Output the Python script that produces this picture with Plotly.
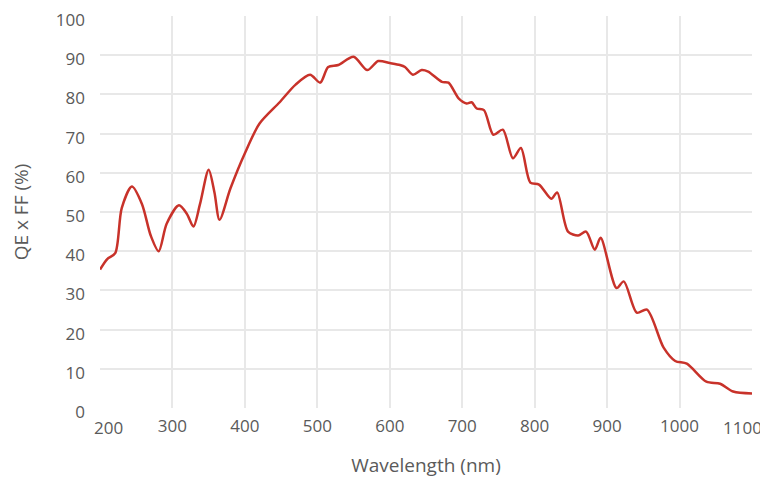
import plotly.graph_objects as go

# QE x FF curve
wavelength_nm = [200, 210, 221, 230, 244, 258, 270, 281, 292, 309, 320, 329, 338, 350,
                 358, 365, 380, 400, 420, 448, 470, 490, 504, 515, 529, 550, 569, 584,
                 600, 614, 621, 632, 644, 653, 672, 681, 695, 706, 713, 720, 730, 743,
                 756, 770, 781, 794, 806, 823, 831, 846, 860, 871, 883, 891, 913, 923,
                 941, 955, 978, 994, 1010, 1037, 1056, 1074, 1100]
qe_ff_pct = [35.3, 38.0, 39.5, 51.0, 56.5, 52.0, 44.0, 40.0, 47.0, 51.7, 49.5, 46.3, 52.0, 60.8,
             55.0, 48.0, 56.0, 65.0, 72.5, 78.0, 82.5, 85.0, 83.0, 87.0, 87.5, 89.6, 86.2, 88.5,
             88.0, 87.5, 87.0, 85.0, 86.2, 85.8, 83.2, 83.0, 79.0, 77.7, 78.0, 76.4, 76.0, 69.7,
             71.0, 63.7, 66.3, 57.5, 57.0, 53.4, 55.0, 45.0, 44.0, 45.0, 40.4, 43.4, 30.6, 32.3,
             24.3, 25.1, 15.4, 12.0, 11.3, 6.7, 6.2, 4.2, 3.7]

x_ticks = [200, 300, 400, 500, 600, 700, 800, 900, 1000, 1100]
x_labels = ["200", "300", "400", "500", "600", "700", "800", "900", "1000", "1100"]
y_ticks = [0, 10, 20, 30, 40, 50, 60, 70, 80, 90, 100]

grey = "#5a5a5a"
grid = "#e8e8e8"

fig = go.Figure()
fig.add_trace(go.Scatter(
    x=wavelength_nm, y=qe_ff_pct, mode="lines",
    line=dict(color="#c8322a", width=2.5, shape="spline", smoothing=0.8),
    hoverinfo="skip", showlegend=False,
))

# end labels sit nudged inward in the source, so they are drawn as annotations
inner_text = [""] + x_labels[1:-1] + [""]
for val, lab, shift in [(x_ticks[0], x_labels[0], 8), (x_ticks[-1], x_labels[-1], -10)]:
    fig.add_annotation(x=val, y=0, xref="x", yref="paper", text=lab, showarrow=False,
                       yanchor="top", yshift=-6, xshift=shift,
                       font=dict(family="Open Sans, sans-serif", size=17, color=grey))

# page body has an 8px margin, so the figure is sized to fit inside the window
fig.update_layout(
    width=760, height=474,
    margin=dict(l=92, r=16, t=8, b=74),
    paper_bgcolor="white", plot_bgcolor="white",
    font=dict(family="Open Sans, sans-serif", color=grey, size=17),
    xaxis=dict(
        range=[200, 1100], tickvals=x_ticks, ticktext=inner_text, ticks="",
        showgrid=True, gridcolor=grid, gridwidth=2, zeroline=False,
        showline=False, ticklabelstandoff=6, automargin=False,
        title=dict(text="Wavelength (nm)", font=dict(size=19), standoff=22),
    ),
    yaxis=dict(
        range=[0, 100], tickvals=y_ticks, ticks="",
        showgrid=True, gridcolor=grid, gridwidth=2, zeroline=False,
        showline=False, ticklabelstandoff=14, ticklabelshift=4,
        ticklabeloverflow="allow", automargin=False,
        title=dict(text="QE x FF (%)", font=dict(size=19), standoff=24),
    ),
)

fig.write_html("out.html")
